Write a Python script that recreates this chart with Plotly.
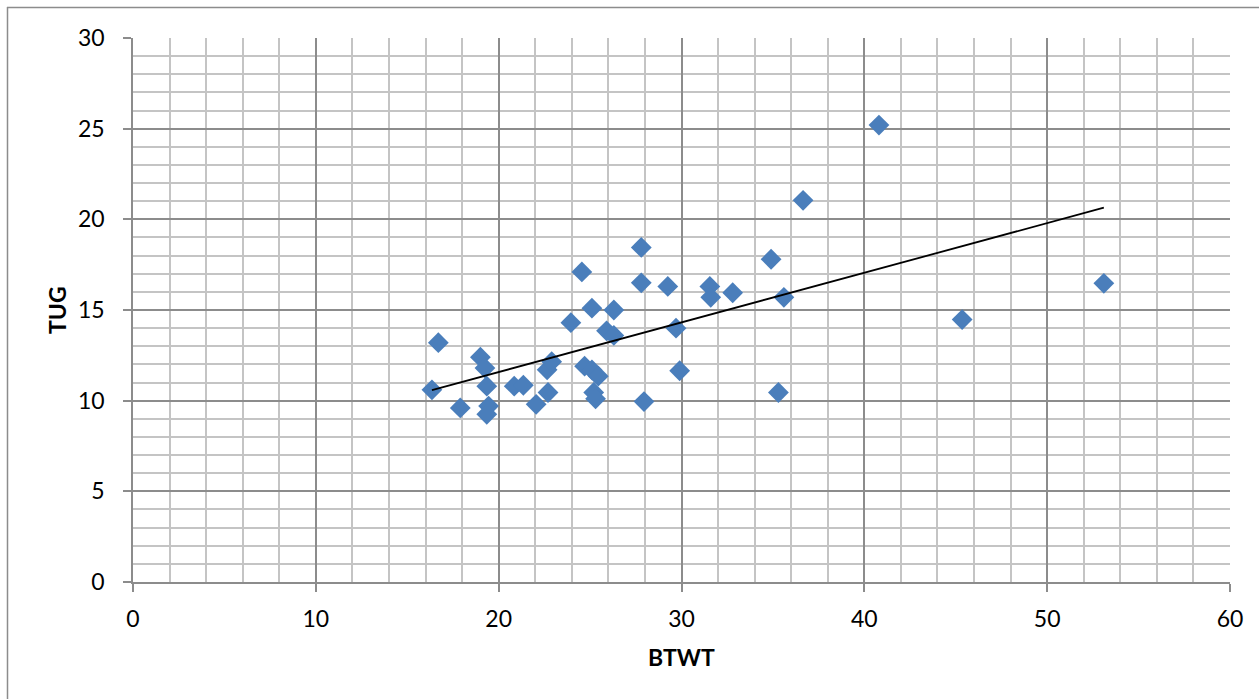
import numpy as np
import plotly.graph_objects as go

# BTWT (x) and TUG (y) values
btwt = [16.35, 16.7, 17.9, 19.0, 19.25, 19.35, 19.45, 19.35, 20.85, 21.35,
        22.05, 22.65, 22.9, 22.7, 23.95, 24.55, 24.7, 25.1, 25.45, 25.2,
        25.3, 25.1, 25.9, 26.3, 26.3, 27.8, 27.8, 27.95, 29.25, 29.7,
        29.9, 31.55, 31.6, 32.8, 34.9, 35.6, 35.3, 36.65, 40.8, 45.35, 53.1]
tug = [10.6, 13.2, 9.6, 12.4, 11.8, 10.8, 9.7, 9.25, 10.8, 10.85,
       9.8, 11.7, 12.15, 10.45, 14.3, 17.1, 11.9, 11.7, 11.35, 10.45,
       10.1, 15.1, 13.85, 13.6, 15.0, 18.45, 16.5, 9.95, 16.3, 14.0,
       11.65, 16.3, 15.7, 15.95, 17.8, 15.7, 10.45, 21.05, 25.2, 14.47, 16.47]

x_title = "BTWT"
y_title = "TUG"

x = np.array(btwt)
y = np.array(tug)
slope, intercept = np.polyfit(x, y, 1)
fit_x = np.array([x.min(), x.max()])
fit_y = slope * fit_x + intercept

fig = go.Figure()
fig.add_trace(go.Scatter(
    x=btwt, y=tug, mode="markers",
    marker=dict(symbol="diamond", size=16, color="#4A7EBB", line=dict(width=0)),
    showlegend=False, hoverinfo="x+y"))
fig.add_trace(go.Scatter(
    x=fit_x, y=fit_y, mode="lines",
    line=dict(color="black", width=1.8), showlegend=False, hoverinfo="skip"))

major = "#8C8C8C"
minor = "#C4C4C4"
font = dict(family="Lato, 'Open Sans', sans-serif", size=23, color="black")

fig.update_xaxes(
    range=[0, 60], dtick=10, tick0=0, showgrid=True, gridcolor=major, gridwidth=1.5,
    minor=dict(dtick=2, showgrid=True, gridcolor=minor, gridwidth=1.5),
    ticks="outside", ticklen=8, tickcolor=major, tickwidth=1.5,
    showline=True, linecolor=major, linewidth=1.5, zeroline=False,
    tickfont=font, ticklabelstandoff=8)
fig.update_yaxes(
    range=[0, 30], dtick=5, tick0=0, showgrid=True, gridcolor=major, gridwidth=1.5,
    minor=dict(dtick=1, showgrid=True, gridcolor=minor, gridwidth=1.5),
    ticks="outside", ticklen=8, tickcolor=major, tickwidth=1.5,
    showline=True, linecolor=major, linewidth=1.5, zeroline=False,
    tickfont=font, ticklabelstandoff=14)

L, R, T, B = 133, 29, 38, 117
W, H = 1259, 699
pw, ph = W - L - R, H - T - B

def px_to_paper_x(px):
    return (px - L) / pw

def px_to_paper_y(py):
    return (H - B - py) / ph

fig.update_layout(
    width=W, height=H,
    margin=dict(l=L, r=R, t=T, b=B, autoexpand=False),
    paper_bgcolor="white", plot_bgcolor="white",
    font=font,
    annotations=[
        dict(text="<b>%s</b>" % x_title, x=0.5, xref="paper",
             y=px_to_paper_y(657), yref="paper", showarrow=False,
             xanchor="center", yanchor="middle", font=font),
        dict(text="<b>%s</b>" % y_title, x=px_to_paper_x(57), xref="paper",
             y=0.5, yref="paper", showarrow=False, textangle=-90,
             xanchor="center", yanchor="middle", font=font),
    ],
    shapes=[
        dict(type="line", xref="paper", yref="paper",
             x0=px_to_paper_x(7.5), x1=px_to_paper_x(7.5),
             y0=px_to_paper_y(7), y1=px_to_paper_y(699),
             line=dict(color=major, width=1.5)),
        dict(type="line", xref="paper", yref="paper",
             x0=px_to_paper_x(7), x1=px_to_paper_x(1259),
             y0=px_to_paper_y(7.5), y1=px_to_paper_y(7.5),
             line=dict(color=major, width=1.5)),
    ],
)

fig.write_html("out.html", config={"displayModeBar": False},
               post_script="document.body.style.margin='0';document.body.style.overflow='hidden';")
